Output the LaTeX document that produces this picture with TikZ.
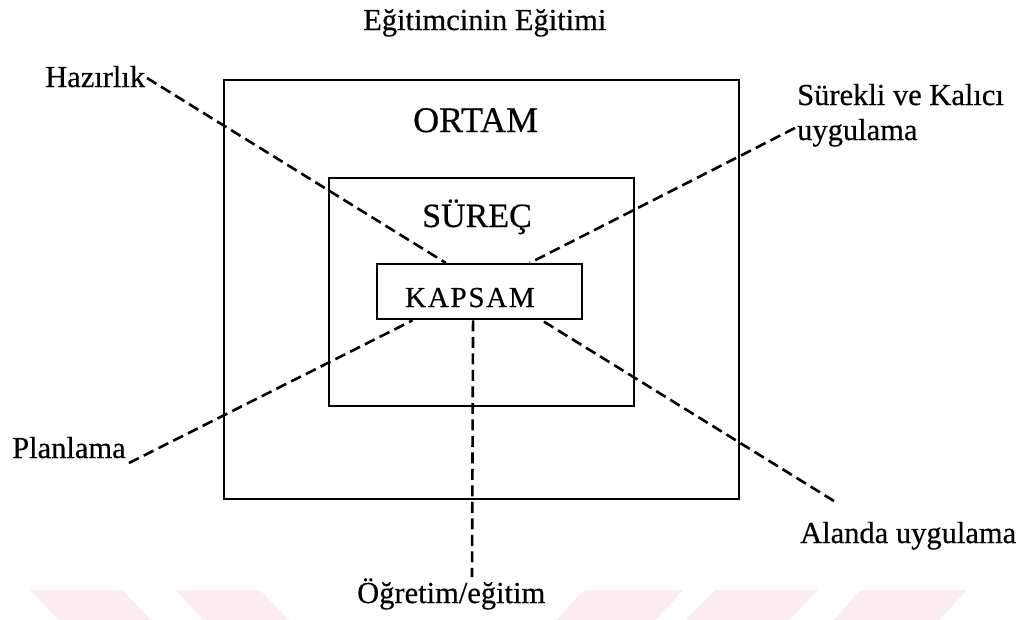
\documentclass[tikz,border=0pt]{standalone}
\usepackage{fontspec}
\setmainfont{Liberation Serif}[FakeBold=0.5]
\usetikzlibrary{calc}
\definecolor{wmark}{RGB}{253,236,239}
\tikzset{
  lbl/.style={inner sep=0pt, anchor=base west, font=\fontsize{30.5}{36}\selectfont},
  boxline/.style={draw=black, line width=2.4pt},
  conn/.style={draw=black, line width=2.6pt, dash pattern=on 11pt off 5.5pt},
  wm/.style={fill=wmark, draw=none}
}
\begin{document}
\begin{tikzpicture}[x=1pt,y=-1pt]
\useasboundingbox (0,0) rectangle (1031,619);
% watermark
\begin{scope}
\clip (0,0) rectangle (1031,619);
\fill[wm] (30,590) -- (122,590) -- (151,620) -- (59,620) -- cycle;
\fill[wm] (175,590) -- (260,590) -- (289,620) -- (204,620) -- cycle;
\fill[wm] (585,590) -- (683,590) -- (656,620) -- (556,620) -- cycle;
\fill[wm] (715,590) -- (818,590) -- (789,620) -- (686,620) -- cycle;
\fill[wm] (860,590) -- (967,590) -- (939,620) -- (834,620) -- cycle;
\end{scope}
% boxes
\node[boxline, minimum width=515pt, minimum height=419pt, inner sep=0pt, anchor=north west] (ortam) at (223,79) {};
\node[boxline, minimum width=305pt, minimum height=228pt, inner sep=0pt, anchor=north west] (surec) at (328,177) {};
% box titles
\node[lbl, font=\fontsize{36}{40}\selectfont] (tortam) at (413,132) {ORTAM};
\node[lbl, font=\fontsize{34}{40}\selectfont] (tsurec) at (422,227) {SÜREÇ};
% title
\node[lbl] (title) at (363,30) {Eğitimcinin Eğitimi};
% labels
\node[lbl] (hazirlik) at (45,87) {Hazırlık};
\node[lbl] (surekli) at (797,105) {Sürekli ve Kalıcı};
\node[lbl] (uyg) at (797,140) {uygulama};
\node[lbl] (planlama) at (12,458) {Planlama};
\node[lbl] (alanda) at (800,543) {Alanda uygulama};
\node[lbl] (ogretim) at (357,603) {Öğretim/eğitim};
% inner box
\node[boxline, fill=white, minimum width=205pt, minimum height=55pt, inner sep=0pt, anchor=north west] (kapsam) at (376,263) {};
\node[lbl, font=\addfontfeature{LetterSpace=6}\fontsize{29}{34}\selectfont] (tkapsam) at (405,307) {KAPSAM};
% connector free ends
\coordinate (hzend) at (147,78);
\coordinate (suend) at (795,128);
\coordinate (plend) at (129,463);
\coordinate (alend) at (834,501);
\coordinate (ogend) at (472,577);
% connectors
\draw[conn] (hzend) -- ($(kapsam.north west)!0.337!(kapsam.north east)$);
\draw[conn] (suend) -- ($(kapsam.north west)!0.741!(kapsam.north east)$);
\draw[conn] (plend) -- ($(kapsam.south west)!0.176!(kapsam.south east)$);
\draw[conn] (alend) -- ($(kapsam.south west)!0.80!(kapsam.south east)$);
\draw[conn] ($(kapsam.south west)!0.468!(kapsam.south east)$) -- (ogend);
\end{tikzpicture}
\end{document}
